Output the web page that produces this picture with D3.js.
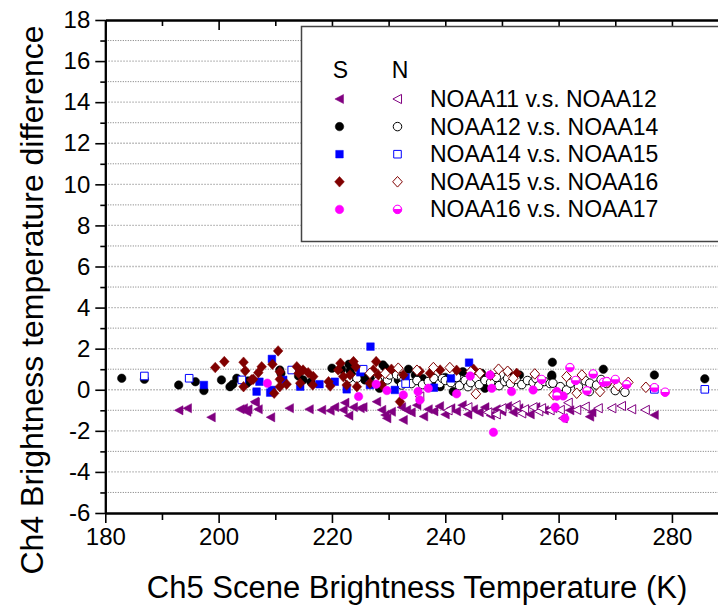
<!DOCTYPE html>
<html>
<head>
<meta charset="utf-8">
<script src="https://cdn.jsdelivr.net/npm/d3@7/dist/d3.min.js"></script>
<style>
  html, body { margin: 0; padding: 0; background: #fff; }
  svg { display: block; font-family: "Liberation Sans", Arial, sans-serif; }
</style>
</head>
<body>
<div class="chart"></div>
<script>
// #region Data
const xMajorTicks = [180, 200, 220, 240, 260, 280];
const xMinorTicks = [190, 210, 230, 250, 270, 290];
const yMajorTicks = [-6, -4, -2, 0, 2, 4, 6, 8, 10, 12, 14, 16, 18];
const yMinorTicks = [-5, -3, -1, 1, 3, 5, 7, 9, 11, 13, 15, 17];

const pairNames = ["NOAA11 v.s. NOAA12", "NOAA12 v.s. NOAA14", "NOAA14 v.s. NOAA15",
                   "NOAA15 v.s. NOAA16", "NOAA16 v.s. NOAA17"];

// [Ch5 scene Tb (K), Ch4 Tb difference]
const s1112 = [[193.0,-1.0],[194.5,-0.9],[198.7,-1.34],[203.8,-0.95],[204.4,-0.9],[205.0,-1.07],[205.2,-0.95],
  [206.5,-0.63],[207.0,-0.95],[206.4,-0.58],[209.2,-1.34],[212.5,-0.9],[216.0,-0.95],[218.2,-0.98],[219.7,-1.02],
  [220.5,-0.85],[222.3,-0.63],[222.0,-0.98],[223.0,-1.26],[223.8,-0.85],[225.0,-0.9],[225.5,-0.85],[227.9,-0.58],
  [228.8,-0.98],[229.7,-1.39],[230.5,-1.07],[232.3,-0.85],[232.6,-1.47],[233.2,-0.98],[229.4,-1.23],[234.0,-1.1],
  [235.0,-0.75],[236.2,-1.3],[237.0,-0.95],[238.0,-1.05],[239.0,-0.8],[240.0,-1.2],[241.0,-0.9],[242.0,-1.05],
  [243.0,-0.75],[244.0,-1.2],[245.0,-0.95],[246.0,-1.1],[247.0,-0.85],[248.0,-1.25],[249.0,-0.95],[250.0,-1.05],
  [251.0,-0.8],[252.0,-1.1],[253.0,-0.9],[254.0,-1.0],[255.0,-1.2],[256.0,-0.85],[257.5,-1.0],[259.0,-0.9],
  [262.0,-1.0],[265.5,-1.31],[265.9,-1.1],[276.9,-1.23]];
const n1112 = [[235.5,-0.33],[240.5,-1.0],[244.0,-0.85],[247.5,-1.1],[249.0,-1.2],[250.0,-0.9],[252.5,-0.75],
  [253.5,-1.15],[254.0,-0.95],[255.5,-0.85],[256.5,-1.05],[257.0,-0.9],[258.5,-1.0],[260.3,-0.98],[260.8,-1.39],
  [261.7,-0.63],[263.2,-0.98],[264.7,-0.82],[267.0,-0.9],[269.4,-0.9],[271.1,-0.79],[272.9,-0.95],[275.3,-0.98]];

const s1214 = [[182.9,0.56],[186.9,0.51],[192.95,0.23],[195.9,0.39],[197.4,-0.04],[200.5,0.48],[202.0,0.15],
  [202.5,0.27],[203.2,0.56],[205.0,0.32],[205.2,0.43],[210.8,0.96],[211.0,0.8],[214.1,0.67],[214.9,0.48],
  [216.3,0.38],[220.0,1.05],[221.7,1.0],[223.0,1.24],[223.2,0.93],[223.5,0.72],[225.3,0.67],[225.8,0.48],
  [226.7,0.61],[228.2,0.39],[228.4,0.07],[229.0,1.21],[229.4,1.08],[231.7,0.48],[233.5,1.0],[234.7,0.72],
  [236.0,0.55],[237.5,0.35],[239.1,0.15],[240.0,0.6],[241.4,-0.09],[243.1,0.88],[246.4,0.8],[247.0,0.07],
  [251.1,0.85],[253.1,0.72],[258.8,0.64],[258.8,0.72],[258.9,1.34],[267.9,1.0],[276.9,0.72],[285.8,0.53]];
const n1214 = [[223.0,0.56],[224.4,0.56],[228.1,0.44],[229.8,0.48],[230.2,0.72],[231.4,0.72],[232.3,0.64],
  [232.7,0.48],[232.3,0.23],[234.0,0.3],[235.0,0.45],[236.0,0.25],[237.0,0.4],[238.0,0.55],[239.0,0.3],
  [239.5,0.55],[240.0,0.45],[241.0,0.35],[242.0,0.6],[242.5,0.2],[243.5,0.45],[244.0,0.15],[244.5,0.35],
  [245.5,0.55],[246.0,0.25],[247.0,0.45],[248.0,0.35],[249.0,0.6],[249.5,0.2],[250.5,0.4],[251.0,0.55],
  [251.5,0.3],[252.5,0.5],[253.5,0.25],[254.5,0.45],[255.5,0.35],[256.0,0.55],[256.5,0.2],[257.5,0.4],
  [258.5,0.3],[259.0,0.32],[260.3,0.15],[261.4,-0.01],[262.1,0.32],[263.5,0.15],[264.7,0.44],[265.4,-0.09],
  [265.5,0.32],[266.7,0.23],[267.5,0.5],[268.5,0.3],[270.0,-0.04],[271.7,-0.12]];

const s1415 = [[197.4,0.23],[206.7,-0.09],[207.2,0.39],[209.1,-0.14],[209.4,-0.01],[209.4,1.5],[211.4,0.48],
  [214.4,0.15],[217.8,0.27],[220.5,0.39],[222.6,0.02],[225.0,0.85],[226.7,0.23],[226.8,2.1],[231.1,-0.01],
  [233.0,0.6],[238.0,0.1],[241.0,0.55],[244.2,1.32]];
const n1415 = [[186.9,0.67],[194.8,0.56],[204.1,0.48],[212.9,0.96],[225.5,1.0],[233.0,0.3],[276.9,0.02],[285.8,0.02]];

const s1516 = [[199.4,1.08],[201.0,1.37],[204.4,1.34],[204.7,0.92],[206.1,0.51],[204.4,0.15],[207.0,0.83],
  [210.5,1.89],[207.6,1.12],[209.5,1.24],[210.8,0.88],[210.8,0.51],[210.8,0.15],[212.0,0.27],[209.8,-0.17],
  [205.8,0.48],[213.8,1.12],[214.1,0.8],[214.9,0.96],[215.8,0.83],[216.7,0.64],[214.4,0.32],[216.6,0.23],
  [219.4,0.39],[219.7,0.18],[221.1,0.96],[221.5,1.29],[222.0,0.64],[223.8,1.37],[224.2,1.12],[223.2,0.72],
  [222.6,0.23],[224.4,0.15],[227.8,1.37],[227.3,0.96],[228.2,0.72],[226.7,0.32],[228.8,0.23],[230.5,1.0],
  [232.0,-0.58],[232.6,0.72],[235.5,0.9],[237.3,0.8],[239.1,0.96],[242.0,0.95],[245.0,1.0],[248.0,0.7],[252.6,0.8]];
const n1516 = [[226.7,0.8],[229.4,0.8],[231.7,1.05],[235.0,0.95],[237.9,1.08],[240.8,1.08],[244.5,0.88],
  [245.4,-0.2],[246.1,0.8],[249.4,1.0],[251.0,0.9],[252.0,0.56],[255.8,0.77],[259.1,-0.25],[261.4,0.64],
  [263.2,-0.17],[264.1,0.72],[267.3,-0.09],[268.7,0.36],[270.5,0.2],[272.3,0.36],[275.4,0.12]];

const s1617 = [[208.6,0.32],[224.7,-0.33],[227.8,0.27],[229.7,-0.04],[232.6,-0.25],[235.2,-0.09],[235.5,-0.5],
  [237.0,0.07],[242.0,-0.2],[244.4,0.67],[247.9,0.72],[248.2,0.07],[248.5,-2.07],[251.7,-0.09],[255.5,-0.01],
  [259.4,-0.85],[259.7,-0.09],[260.8,-0.3],[261.1,-1.39]];
const n1617 = [[257.0,0.5],[259.7,-0.3],[262.0,1.08],[263.0,0.45],[265.0,-0.05],[266.1,0.77],[267.9,0.36],
  [268.5,0.4],[270.0,0.5],[272.0,0.25],[276.9,0.1],[278.8,-0.12]];
// #endregion

const width = 718, height = 607;
const svg = d3.select(".chart").append("svg")
  .attr("width", width).attr("height", height);

// #region Scales
const xScale = d3.scaleLinear().domain([180, 290]).range([105.3, 728.6]);
const yScale = d3.scaleLinear().domain([-6, 18]).range([513, 20]);
const x0 = xScale(180), x1 = xScale(290), yTop = yScale(18), yBot = yScale(-6);
// #endregion

// #region Grid
const gGrid = svg.append("g").attr("class", "grid");
gGrid.selectAll(".gMaj").data(yMajorTicks.filter(v => v > -6 && v < 18)).enter()
  .append("line")
  .attr("x1", x0).attr("x2", x1)
  .attr("y1", d => yScale(d)).attr("y2", d => yScale(d))
  .attr("stroke", "#b0b0b0").attr("stroke-width", 1.3).attr("stroke-dasharray", "1.5,1.5");
gGrid.selectAll(".gMin").data(yMinorTicks).enter()
  .append("line")
  .attr("x1", x0).attr("x2", x1)
  .attr("y1", d => yScale(d)).attr("y2", d => yScale(d))
  .attr("stroke", "#555").attr("stroke-width", 0.8).attr("stroke-dasharray", "1,1.5");
// #endregion

// #region Markers
function markerPath(kind, s) {
  switch (kind) {
    case "tri": return `M${-4*s},0L${3.5*s},${-4*s}L${3.5*s},${4*s}Z`;
    case "sq": return `M${-3.3*s},${-3.3*s}h${6.6*s}v${6.6*s}h${-6.6*s}Z`;
    case "dia": return `M0,${-4.6*s}L${4.2*s},0L0,${4.6*s}L${-4.2*s},0Z`;
    default: return d3.arc()({innerRadius: 0, outerRadius: 3.7*s, startAngle: 0, endAngle: 2*Math.PI});
  }
}

const seriesList = [
  {data: s1112, kind: "tri", color: "#800080", open: false},
  {data: n1112, kind: "tri", color: "#800080", open: true},
  {data: s1214, kind: "circ", color: "#000000", open: false},
  {data: n1214, kind: "circ", color: "#000000", open: true},
  {data: s1415, kind: "sq", color: "#0000ff", open: false},
  {data: n1415, kind: "sq", color: "#0000ff", open: true},
  {data: s1516, kind: "dia", color: "#800000", open: false},
  {data: n1516, kind: "dia", color: "#800000", open: true},
  {data: s1617, kind: "circ", color: "#ff00ff", open: false},
  {data: n1617, kind: "half", color: "#ff00ff", open: true}
];

function drawMarker(g, kind, color, open, s) {
  if (kind === "half") {
    g.append("path").attr("d", markerPath("circ", s)).attr("fill", color).attr("stroke", color).attr("stroke-width", 1);
    g.append("path")
      .attr("d", d3.arc()({innerRadius: 0, outerRadius: 2.9*s, startAngle: -Math.PI/2, endAngle: Math.PI/2}))
      .attr("transform", "translate(0,-0.3)")
      .attr("fill", "#fff");
    return;
  }
  g.append("path").attr("d", markerPath(kind, s))
    .attr("fill", open ? "#fff" : color)
    .attr("stroke", color)
    .attr("stroke-width", open ? 1 : 0.5);
}

const mScale = 1.15;
const gPoints = svg.append("g").attr("class", "points");
seriesList.forEach((ser, i) => {
  const g = gPoints.append("g").attr("class", "series" + i);
  g.selectAll("g").data(ser.data).enter().append("g")
    .attr("transform", d => `translate(${xScale(d[0])},${yScale(d[1])})`)
    .each(function () { drawMarker(d3.select(this), ser.kind, ser.color, ser.open, mScale); });
});
// #endregion

// #region Axes
function styleAxis(g, width) {
  g.select(".domain").attr("stroke", "#000").attr("stroke-width", 2);
  g.selectAll(".tick line").attr("stroke", "#000").attr("stroke-width", width);
  g.selectAll(".tick text").attr("font-size", 24).attr("fill", "#000")
    .attr("font-family", "Liberation Sans, Arial, sans-serif");
}

const gX = svg.append("g").attr("transform", `translate(0,${yBot})`)
  .call(d3.axisBottom(xScale).tickValues(xMajorTicks).tickSize(10).tickPadding(5).tickSizeOuter(0));
styleAxis(gX, 1.6);
svg.append("g").attr("transform", `translate(0,${yBot})`)
  .call(d3.axisBottom(xScale).tickValues(xMinorTicks).tickSize(7).tickFormat("").tickSizeOuter(0))
  .call(g => styleAxis(g, 1.6));

const gTop = svg.append("g").attr("transform", `translate(0,${yTop})`)
  .call(d3.axisBottom(xScale).tickValues(xMajorTicks).tickSize(10).tickFormat("").tickSizeOuter(0));
styleAxis(gTop, 1.6);
svg.append("g").attr("transform", `translate(0,${yTop})`)
  .call(d3.axisBottom(xScale).tickValues(xMinorTicks).tickSize(6).tickFormat("").tickSizeOuter(0))
  .call(g => styleAxis(g, 1.6));

const gY = svg.append("g").attr("transform", `translate(${x0},0)`)
  .call(d3.axisLeft(yScale).tickValues(yMajorTicks).tickSize(10).tickPadding(5).tickSizeOuter(0)
    .tickFormat(d => d < 0 ? "-" + Math.abs(d) : d));
styleAxis(gY, 1.6);
svg.append("g").attr("transform", `translate(${x0},0)`)
  .call(d3.axisLeft(yScale).tickValues(yMinorTicks).tickSize(5).tickFormat("").tickSizeOuter(0))
  .call(g => styleAxis(g, 1.6));
// #endregion

// #region Titles
svg.append("text")
  .attr("x", 417).attr("y", 598)
  .attr("text-anchor", "middle").attr("font-size", 31)
  .text("Ch5 Scene Brightness Temperature (K)");
svg.append("text")
  .attr("transform", "translate(43,300) rotate(-90)")
  .attr("text-anchor", "middle").attr("font-size", 32)
  .text("Ch4 Brightness temperature difference");
// #endregion

// #region Legend
const gLegend = svg.append("g").attr("class", "legend");
gLegend.append("rect")
  .attr("x", 301.5).attr("y", 26.5).attr("width", 440).attr("height", 215)
  .attr("fill", "#fff").attr("stroke", "#444").attr("stroke-width", 1.5);
gLegend.append("text").attr("x", 340.5).attr("y", 78).attr("text-anchor", "middle").attr("font-size", 23).text("S");
gLegend.append("text").attr("x", 400).attr("y", 78).attr("text-anchor", "middle").attr("font-size", 23).text("N");
pairNames.forEach((name, i) => {
  const cy = 99 + i * 27.6;
  const sSer = seriesList[i * 2], nSer = seriesList[i * 2 + 1];
  drawMarker(gLegend.append("g").attr("transform", `translate(339.5,${cy})`), sSer.kind, sSer.color, false, 1.15);
  drawMarker(gLegend.append("g").attr("transform", `translate(397.5,${cy})`), nSer.kind, nSer.color, true, 1.15);
  gLegend.append("text").attr("x", 430).attr("y", cy + 8).attr("font-size", 23).text(name);
});
// #endregion
</script>
</body>
</html>
